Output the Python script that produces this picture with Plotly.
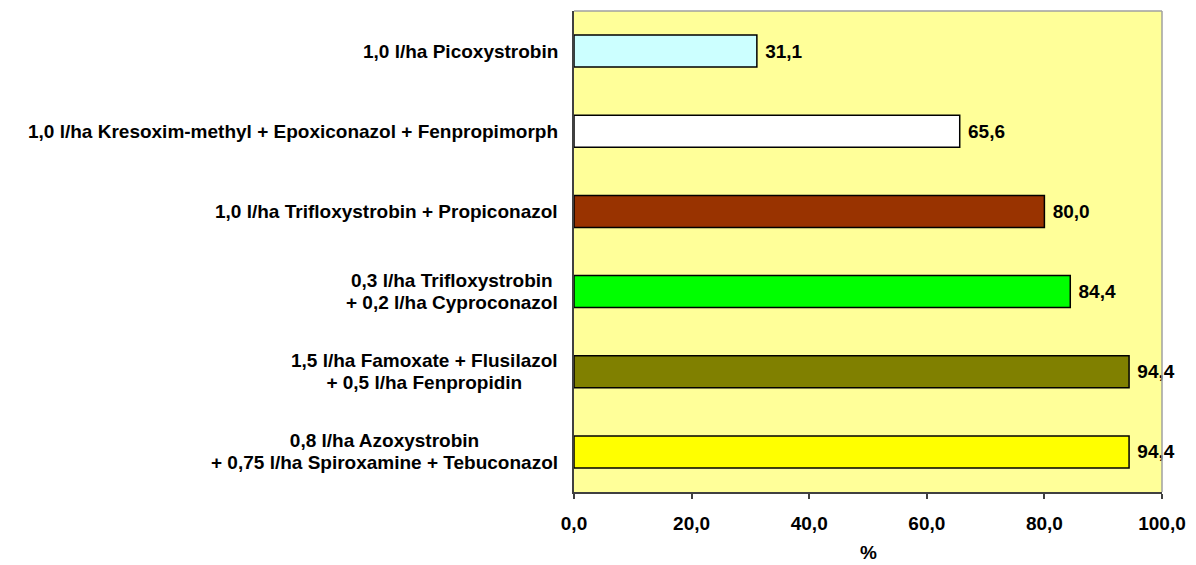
import plotly.graph_objects as go

categories = [
    "1,0 l/ha Picoxystrobin",
    "1,0 l/ha Kresoxim-methyl + Epoxiconazol + Fenpropimorph",
    "1,0 l/ha Trifloxystrobin + Propiconazol",
    "0,3 l/ha Trifloxystrobin<br>+ 0,2 l/ha Cyproconazol",
    "1,5 l/ha Famoxate + Flusilazol<br>+ 0,5 l/ha Fenpropidin",
    "0,8 l/ha Azoxystrobin<br>+ 0,75 l/ha Spiroxamine + Tebuconazol",
]
values = [31.1, 65.6, 80.0, 84.4, 94.4, 94.4]
bar_colors = ["#CCFFFF", "#FFFFFF", "#993300", "#00FF00", "#808000", "#FFFF00"]
x_ticks = [0, 20, 40, 60, 80, 100]
x_title = "%"

FONT = "Liberation Sans, Arial, sans-serif"
FS = 19

fig = go.Figure()
fig.add_trace(go.Bar(
    y=categories,
    x=values,
    orientation="h",
    width=0.4,
    marker=dict(color=bar_colors, line=dict(color="#000000", width=1.5)),
    text=values,
    texttemplate="\u00a0%{x:.1f}",
    textposition="outside",
    textfont=dict(family=FONT, size=FS, color="#000000", weight="bold"),
    cliponaxis=False,
    hoverinfo="skip",
))

annotations = []
for c in categories:
    lines = c.split("<br>")
    txt = "<br>".join(f"<span style='font-size:{FS}px'>{ln}</span>" for ln in lines)
    annotations.append(dict(
        x=0, xref="paper", y=c, yref="y",
        text=txt, showarrow=False, xanchor="right", yanchor="middle",
        align="center", xshift=-14,
        font=dict(family=FONT, size=17, color="#000000", weight="bold"),
    ))
annotations.append(dict(
    x=0.5, xref="paper", y=0, yref="paper",
    text=x_title, showarrow=False, xanchor="center", yanchor="middle",
    yshift=-60, borderpad=0,
    font=dict(family=FONT, size=FS, color="#000000", weight="bold"),
))

fig.update_layout(
    width=1188, height=557,
    margin=dict(l=566, r=34, t=3, b=73, autoexpand=False),
    paper_bgcolor="#FFFFFF",
    plot_bgcolor="#FFFF99",
    separators=",.",
    showlegend=False,
    bargap=0.6,
    annotations=annotations,
    shapes=[
        dict(type="line", xref="paper", yref="paper", x0=0, x1=1, y0=1, y1=1,
             line=dict(color="#A0A0A0", width=1.5)),
        dict(type="line", xref="paper", yref="paper", x0=1, x1=1, y0=0, y1=1,
             line=dict(color="#A0A0A0", width=1.5)),
    ],
    xaxis=dict(
        range=[0, 100],
        tickvals=x_ticks,
        tickformat=".1f",
        showgrid=False,
        zeroline=False,
        automargin=False,
        showline=True, linecolor="#404040", linewidth=2,
        ticks="outside", ticklen=5, tickcolor="#404040", tickwidth=1.5,
        ticklabelstandoff=8,
        tickfont=dict(family=FONT, size=FS, color="#000000", weight="bold"),
        fixedrange=True,
    ),
    yaxis=dict(
        categoryorder="array",
        categoryarray=categories[::-1],
        showticklabels=False,
        showgrid=False,
        zeroline=False,
        automargin=False,
        showline=True, linecolor="#404040", linewidth=2,
        ticks="",
        fixedrange=True,
    ),
)

fig.write_html("out.html")
